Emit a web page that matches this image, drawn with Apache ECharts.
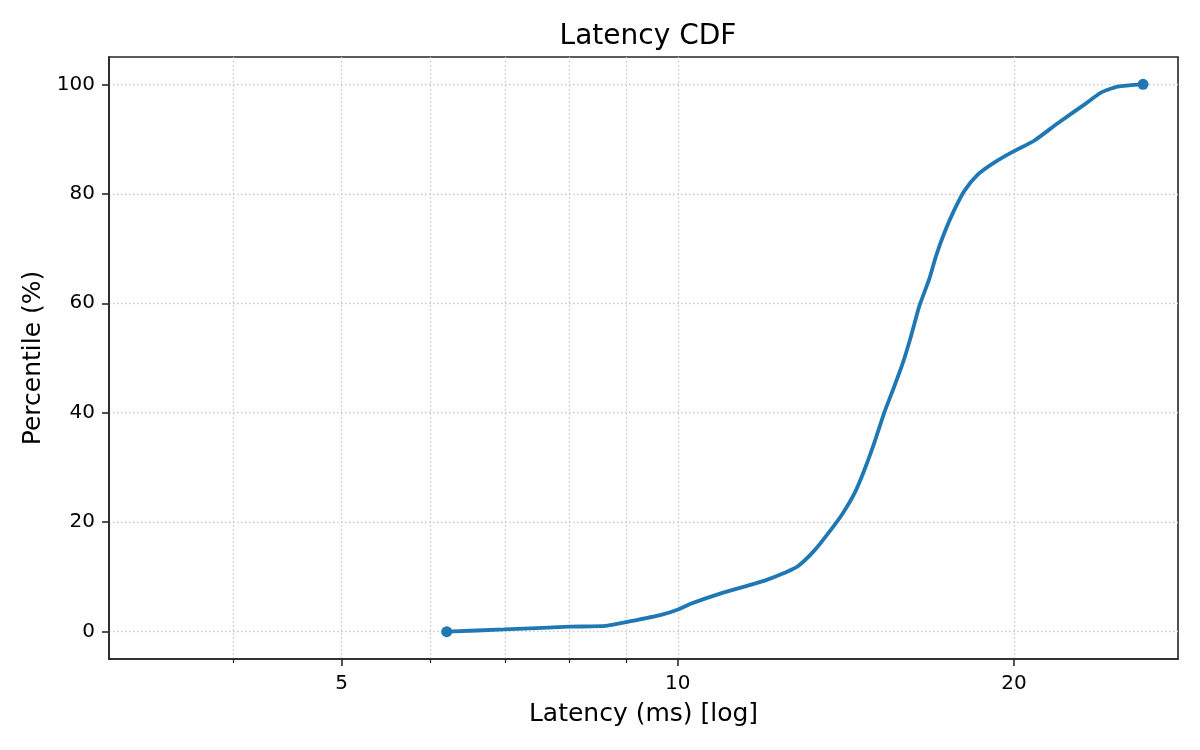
<!DOCTYPE html>
<html>
<head>
<meta charset="utf-8">
<script src="https://cdn.jsdelivr.net/npm/echarts@6/dist/echarts.min.js"></script>
<style>
html, body { margin: 0; padding: 0; background: #fff; }
#cdf { width: 1200px; height: 750px; }
</style>
</head>
<body>
<div id="cdf"></div>
<script>
// latency samples (ms) and their percentile
var latency = [6.21, 6.99, 8.0, 8.62, 9.08, 9.66, 10.02, 10.27, 10.93, 11.55,
	12.03, 12.45, 12.80, 13.25, 13.71, 14.05, 14.39, 14.69, 14.99, 15.30,
	15.62, 15.90, 16.17, 16.45, 16.80, 17.03, 17.32, 17.69, 18.05, 18.56,
	19.2, 20.0, 20.85, 21.89, 23.12, 23.93, 24.77, 26.1];
var percentile = [0, 0.4, 0.9, 1.05, 1.9, 3.05, 4.1, 5.1, 7.0, 8.4,
	9.5, 10.7, 11.9, 14.8, 18.6, 21.6, 25.2, 29.5, 34.4, 39.9,
	44.7, 49.0, 53.9, 59.4, 64.5, 68.6, 72.8, 77.1, 80.5, 83.5,
	85.7, 87.8, 89.7, 92.9, 96.3, 98.5, 99.6, 100];
var xMajor = [5, 10, 20];
var xMinor = [4, 6, 7, 8, 9];
var yTicks = [0, 20, 40, 60, 80, 100];

var font = 'DejaVu Sans';
var dark = '#262626';
var gridLine = { show: true, lineStyle: { color: '#c8c8c8', width: 1.3, type: [1.5, 2.5] } };

function toPairs(xs, ys) {
	var out = [];
	for (var i = 0; i < xs.length; i++) out.push([xs[i], ys[i]]);
	return out;
}
var points = toPairs(latency, percentile);
var last = points.length - 1;

var chartDom = document.getElementById('cdf');
var myChart = echarts.init(chartDom);
var option = {
	animation: false,
	backgroundColor: '#fff',
	title: {
		text: 'Latency CDF',
		left: 643,
		textAlign: 'center',
		top: 18,
		textStyle: { fontFamily: font, fontSize: 28, fontWeight: 'normal', color: '#000' }
	},
	grid: {
		left: 109, right: 22, top: 57, bottom: 91,
		show: true, borderColor: dark, borderWidth: 1.6, backgroundColor: 'transparent'
	},
	xAxis: [{
		type: 'log',
		logBase: 10,
		min: 3.095,
		max: 28.05,
		name: 'Latency (ms) [log]',
		nameLocation: 'middle',
		nameGap: 43,
		nameTextStyle: { fontFamily: font, fontSize: 25, color: '#000' },
		axisLine: { show: true, onZero: false, lineStyle: { color: dark, width: 1.6 } },
		axisTick: { show: true, customValues: xMajor, length: 7, lineStyle: { color: dark, width: 1.6 } },
		axisLabel: { customValues: xMajor, fontFamily: font, fontSize: 20, color: '#000', margin: 15 },
		splitLine: gridLine
	}, {
		type: 'log',
		logBase: 10,
		min: 3.095,
		max: 28.05,
		position: 'bottom',
		axisLine: { show: false, onZero: false },
		axisTick: { show: true, customValues: xMinor, length: 4, lineStyle: { color: dark, width: 1.2 } },
		axisLabel: { show: false },
		splitLine: gridLine
	}],
	yAxis: {
		type: 'value',
		min: -5,
		max: 105,
		name: 'Percentile (%)',
		nameLocation: 'middle',
		nameGap: 61,
		nameTextStyle: { fontFamily: font, fontSize: 25, color: '#000' },
		axisLine: { show: true, onZero: false, lineStyle: { color: dark, width: 1.6 } },
		axisTick: { show: true, customValues: yTicks, length: 7, lineStyle: { color: dark, width: 1.6 } },
		axisLabel: { customValues: yTicks, fontFamily: font, fontSize: 20, color: '#000', margin: 14 },
		splitLine: gridLine
	},
	series: [{
		name: 'CDF',
		type: 'line',
		data: points,
		symbol: 'none',
		smooth: 0.2,
		lineStyle: { color: '#1f77b4', width: 3.8 },
		z: 3
	}, {
		name: 'ends',
		type: 'scatter',
		data: [points[0], points[last]],
		symbol: 'circle',
		symbolSize: 11,
		itemStyle: { color: '#1f77b4', opacity: 1 },
		z: 4
	}]
};

option && myChart.setOption(option);
</script>
</body>
</html>
